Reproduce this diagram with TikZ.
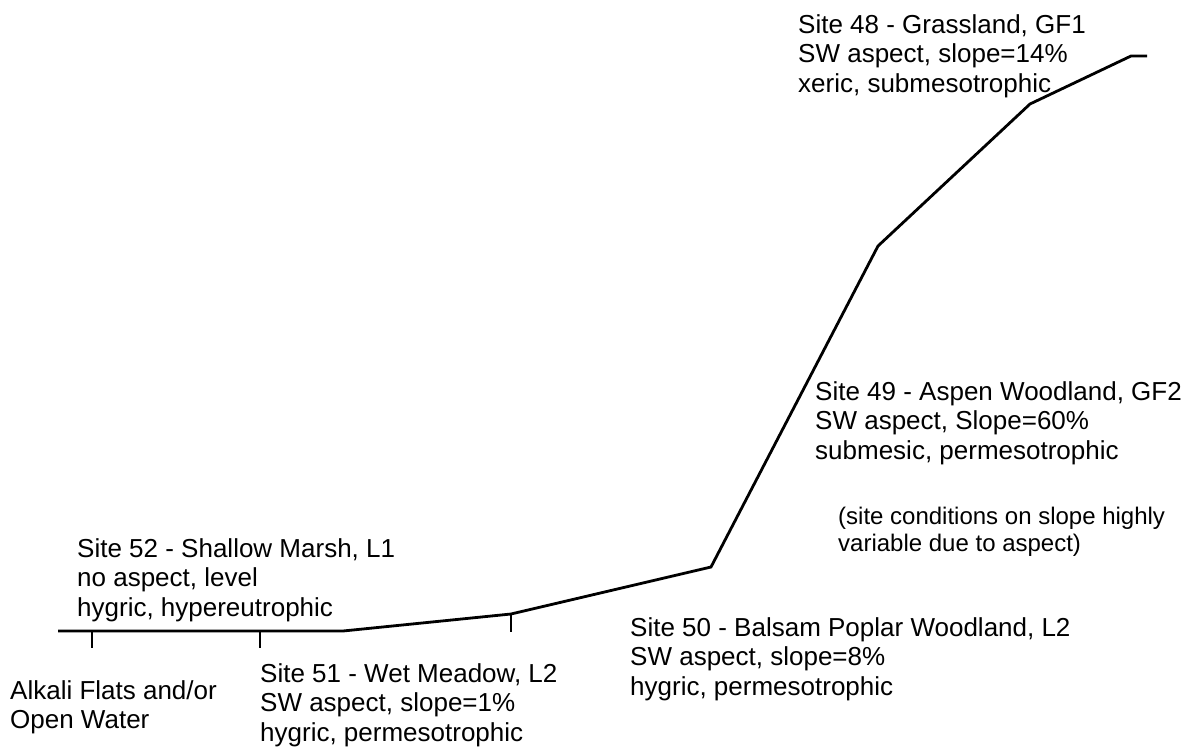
\documentclass[tikz,border=0pt]{standalone}
\usepackage{fontspec}
\setmainfont{Liberation Sans}
\begin{document}
\begin{tikzpicture}[x=1pt, y=-1pt,
    site/.style={anchor=north west, inner sep=0pt, align=left, font=\fontsize{26}{29.5}\selectfont},
    note/.style={anchor=north west, inner sep=0pt, align=left, font=\fontsize{24}{27}\selectfont},
    ground/.style={line width=2.8pt}]

    \useasboundingbox (0,0) rectangle (1202,752);

    \coordinate (p0) at (58,631);
    \coordinate (p1) at (343,631);
    \coordinate (p2) at (511,614);
    \coordinate (p3) at (711,567);
    \coordinate (p4) at (878,246);
    \coordinate (p5) at (1030,104);
    \coordinate (p6) at (1131,56);
    \coordinate (p7) at (1147,56);

    \coordinate (t1) at (92,631);
    \coordinate (t1b) at (92,648);
    \coordinate (t2) at (260,631);
    \coordinate (t2b) at (260,648);
    \coordinate (t3) at (511,614);
    \coordinate (t3b) at (511,632);

    \node[site] (site48) at (798,14) {Site 48 - Grassland, GF1\\SW aspect, slope=14\%\\xeric, submesotrophic};
    \node[site] (site49) at (815,381) {Site 49 - Aspen Woodland, GF2\\SW aspect, Slope=60\%\\submesic, permesotrophic};
    \node[note] (note49) at (838,507) {(site conditions on slope highly\\variable due to aspect)};
    \node[site] (site50) at (630,617) {Site 50 - Balsam Poplar Woodland, L2\\SW aspect, slope=8\%\\hygric, permesotrophic};
    \node[site] (site51) at (260,663) {Site 51 - Wet Meadow, L2\\SW aspect, slope=1\%\\hygric, permesotrophic};
    \node[site] (site52) at (77,538) {Site 52 - Shallow Marsh, L1\\no aspect, level\\hygric, hypereutrophic};
    \node[site] (flats) at (10,680) {Alkali Flats and/or\\Open Water};

    \draw[ground] (p0) -- (p1) -- (p2) -- (p3) -- (p4) -- (p5) -- (p6) -- (p7);

    \draw[ground] (t1) -- (t1b);
    \draw[ground] (t2) -- (t2b);
    \draw[ground] (t3) -- (t3b);

\end{tikzpicture}
\end{document}
